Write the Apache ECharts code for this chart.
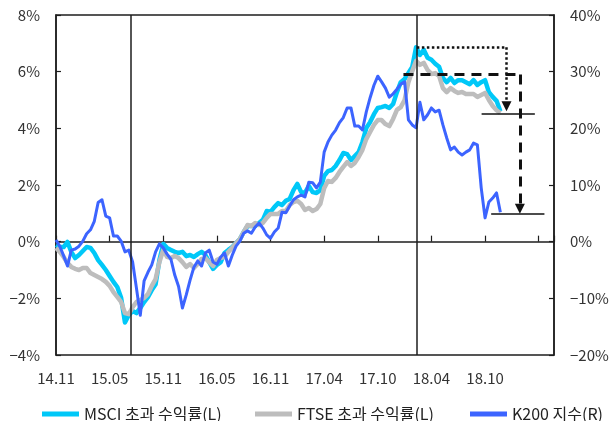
<!DOCTYPE html>
<html>
<head>
<meta charset="utf-8">
<script src="https://cdn.jsdelivr.net/npm/echarts@6/dist/echarts.min.js"></script>
<style>
  html, body { margin: 0; padding: 0; background: #fff; }
  #chart { width: 613px; height: 421px; }
</style>
</head>
<body>
<div id="chart"></div>
<script>
// Tick labels along the trading-day axis (one label every 14 samples)
const tickLabels = ['14.11', '15.05', '15.11', '16.05', '16.11', '17.04', '17.10', '18.04', '18.10', ''];
const labelStep = 14;
const lastIndex = 130;

// MSCI excess return, % (left axis)
const msciExcess = [
  -0.12, -0.19, -0.19, -0.01, -0.36, -0.58, -0.47, -0.33, -0.19, -0.22,
  -0.40, -0.65, -0.82, -1.00, -1.21, -1.42, -1.60, -1.98, -2.85, -2.59,
  -2.45, -2.52, -2.34, -2.13, -1.96, -1.71, -1.50, -0.65, -0.08, -0.22,
  -0.29, -0.36, -0.40, -0.36, -0.51, -0.47, -0.54, -0.44, -0.36, -0.47,
  -0.72, -0.96, -0.82, -0.72, -0.40, -0.29, -0.19, -0.05, 0.09, 0.34,
  0.55, 0.55, 0.55, 0.66, 0.77, 1.08, 1.05, 1.22, 1.36, 1.29,
  1.44, 1.51, 1.82, 2.04, 1.75, 1.72, 1.97, 1.75, 1.72, 1.82,
  2.32, 2.49, 2.53, 2.67, 2.88, 3.13, 3.09, 2.88, 3.02, 3.16,
  3.52, 4.01, 4.22, 4.50, 4.72, 4.75, 4.79, 4.72, 4.86, 5.28,
  5.63, 5.74, 5.95, 6.17, 6.86, 6.59, 6.77, 6.49, 6.42, 6.28,
  6.17, 5.78, 5.63, 5.78, 5.60, 5.70, 5.70, 5.63, 5.56, 5.70,
  5.53, 5.63, 5.70, 5.28, 5.11, 4.97, 4.60
];

// FTSE excess return, % (left axis)
const ftseExcess = [
  -0.22, -0.36, -0.54, -0.75, -0.89, -0.96, -1.00, -0.93, -0.93, -1.11,
  -1.18, -1.25, -1.32, -1.42, -1.56, -1.78, -1.95, -2.13, -2.52, -2.56,
  -2.31, -2.13, -2.06, -1.99, -1.85, -1.56, -1.32, -0.72, -0.29, -0.54,
  -0.58, -0.51, -0.58, -0.72, -0.89, -0.79, -0.93, -0.79, -0.61, -0.58,
  -0.72, -0.86, -0.65, -0.58, -0.54, -0.36, -0.22, -0.05, 0.09, 0.34,
  0.59, 0.55, 0.66, 0.59, 0.66, 0.84, 0.98, 0.98, 0.98, 1.08,
  1.08, 1.29, 1.40, 1.44, 1.33, 1.12, 1.19, 1.08, 1.15, 1.33,
  1.89, 2.14, 2.11, 2.25, 2.46, 2.64, 2.81, 2.67, 2.78, 2.99,
  3.24, 3.62, 3.87, 4.12, 4.29, 4.29, 4.15, 4.08, 4.33, 4.65,
  4.75, 5.00, 5.63, 6.02, 6.38, 6.24, 6.31, 6.06, 5.92, 5.95,
  5.85, 5.42, 5.28, 5.42, 5.32, 5.25, 5.28, 5.21, 5.21, 5.21,
  5.11, 5.18, 5.25, 5.00, 4.79, 4.64, 4.54
];

// KOSPI200 index change, % (right axis)
const k200Index = [
  0.3, -0.8, -2.5, -4.3, -1.5, -1.3, -0.8, 0.1, 1.4, 2.1,
  3.6, 6.9, 7.4, 4.5, 4.2, 1.0, 1.0, 0.1, -1.8, -1.5,
  -3.6, -8.2, -13.0, -6.9, -5.4, -4.1, -1.8, -0.4, -1.1, -2.2,
  -3.1, -5.9, -7.9, -11.7, -9.4, -6.8, -4.5, -3.4, -4.3, -2.0,
  -1.5, -3.6, -4.0, -2.7, -2.0, -4.3, -2.4, -0.8, 0.1, 1.5,
  1.9, 1.5, 2.6, 3.3, 2.4, 1.2, 0.6, 1.7, 2.4, 5.2,
  5.1, 6.3, 7.4, 7.9, 8.2, 7.9, 10.5, 10.4, 9.5, 10.5,
  15.8, 17.6, 18.8, 19.7, 21.0, 21.9, 23.6, 23.6, 20.4, 20.4,
  19.7, 22.9, 25.4, 27.6, 29.2, 28.2, 27.1, 25.5, 26.1, 26.9,
  27.8, 28.2, 21.5, 20.6, 20.1, 24.6, 21.5, 22.4, 23.6, 22.9,
  23.2, 20.6, 18.3, 16.2, 16.7, 15.8, 15.3, 15.8, 16.2, 17.4,
  17.1, 9.5, 4.2, 7.0, 7.7, 8.6, 5.2
];

// Event dates (sample index)
const eventIdx = [19.6, 94.2];

// MSCI drawdown annotation (left axis): horizontal span, peak -> arrow end, closing level
const msciDropSpan = [94.2, 117.6];
const msciDropPct = [6.86, 4.78];
const msciLevelSpan = [111.1, 125.0];
const msciLevelPct = 4.5;

// K200 drawdown annotation (right axis)
const k200DropSpan = [90.7, 121.1];
const k200DropPct = [29.5, 5.8];
const k200LevelSpan = [113.6, 127.5];
const k200LevelPct = 5.0;

const names = ['MSCI 초과 수익률(L)', 'FTSE 초과 수익률(L)', 'K200 지수(R)'];
const colors = ['#00c8f8', '#bdbdbd', '#3c64ff'];
const legendLeft = [37, 250, 465];

const ink = '#1e1e1e';
const font = '"Noto Sans CJK KR", "Noto Sans", sans-serif';
const pct = v => (v < 0 ? '\u2212' + Math.abs(v) : String(v)) + '%';
const indexed = arr => arr.map((v, i) => [i, v]);

const chart = echarts.init(document.getElementById('chart'), null, { renderer: 'canvas' });

const arrowLine = (span, drop) => [
  [{ coord: [span[0], drop[0]], symbol: 'none' }, { coord: [span[1], drop[0]], symbol: 'none' }],
  [{ coord: [span[1], drop[0]], symbol: 'none' }, { coord: [span[1], drop[1]], symbol: 'triangle', symbolSize: [10, 10] }]
];

chart.setOption({
  animation: false,
  backgroundColor: '#fff',
  grid: {
    left: 56, right: 59, top: 15, bottom: 66,
    show: true, borderColor: ink, borderWidth: 1.5,
    outerBoundsMode: 'none'
  },
  legend: names.map((n, i) => ({
    top: 401, left: legendLeft[i],
    icon: 'rect', itemWidth: 37, itemHeight: 5,
    textStyle: { fontSize: 16, color: '#222', fontFamily: font },
    data: [n]
  })),
  xAxis: [
    {
      type: 'value', min: 0, max: lastIndex, interval: labelStep, position: 'bottom',
      axisLine: { show: false, onZero: false },
      axisTick: { show: false },
      splitLine: { show: false },
      axisLabel: {
        margin: 16, color: '#333', fontSize: 15, fontFamily: font,
        showMinLabel: true, showMaxLabel: true,
        formatter: v => (v % labelStep === 0 ? (tickLabels[v / labelStep] || '') : '')
      }
    },
    {
      type: 'value', min: 0, max: lastIndex, interval: labelStep, position: 'bottom',
      axisLine: { show: true, onZero: true, onZeroAxisIndex: 0, lineStyle: { color: ink, width: 1.5 } },
      axisTick: { show: true, inside: true, length: 6, lineStyle: { color: ink, width: 1.2 } },
      axisLabel: { show: false },
      splitLine: { show: false }
    }
  ],
  yAxis: [
    {
      type: 'value', min: -4, max: 8, interval: 2, position: 'left',
      axisLine: { show: true, onZero: false, lineStyle: { color: ink, width: 1.5 } },
      axisTick: { show: true, inside: true, length: 5, lineStyle: { color: ink, width: 1.2 } },
      splitLine: { show: false },
      axisLabel: { margin: 16, color: '#333', fontSize: 15, fontFamily: font, formatter: pct }
    },
    {
      type: 'value', min: -20, max: 40, interval: 10, position: 'right',
      axisLine: { show: true, onZero: false, lineStyle: { color: ink, width: 1.5 } },
      axisTick: { show: true, inside: true, length: 5, lineStyle: { color: ink, width: 1.2 } },
      splitLine: { show: false },
      axisLabel: { margin: 16, color: '#333', fontSize: 15, fontFamily: font, formatter: pct }
    }
  ],
  series: [
    {
      name: names[0], type: 'line', xAxisIndex: 0, yAxisIndex: 0,
      data: indexed(msciExcess), symbol: 'none',
      lineStyle: { color: colors[0], width: 4.5, join: 'round' }, itemStyle: { color: colors[0] }
    },
    {
      name: names[1], type: 'line', xAxisIndex: 0, yAxisIndex: 0,
      data: indexed(ftseExcess), symbol: 'none',
      lineStyle: { color: colors[1], width: 4.5, join: 'round' }, itemStyle: { color: colors[1] }
    },
    {
      name: names[2], type: 'line', xAxisIndex: 0, yAxisIndex: 1,
      data: indexed(k200Index), symbol: 'none',
      lineStyle: { color: colors[2], width: 3, join: 'round' }, itemStyle: { color: colors[2] }
    },
    {
      // event markers and MSCI drawdown arrow
      type: 'line', xAxisIndex: 0, yAxisIndex: 0, data: [], z: 5, silent: true,
      markLine: {
        silent: true, animation: false, symbol: 'none', precision: 4,
        label: { show: false }, emphasis: { disabled: true },
        data: [
          ...eventIdx.map(x => ({ xAxis: x, lineStyle: { color: ink, width: 1.5, type: 'solid' } })),
          ...arrowLine(msciDropSpan, msciDropPct).map(seg => {
            seg[0].lineStyle = { color: '#111', width: 2.5, type: [2.5, 2.5] };
            return seg;
          }),
          [
            { coord: [msciLevelSpan[0], msciLevelPct], lineStyle: { color: '#111', width: 1.5, type: 'solid' } },
            { coord: [msciLevelSpan[1], msciLevelPct] }
          ]
        ]
      }
    },
    {
      // K200 drawdown arrow
      type: 'line', xAxisIndex: 0, yAxisIndex: 1, data: [], z: 5, silent: true,
      markLine: {
        silent: true, animation: false, symbol: 'none', precision: 4,
        label: { show: false }, emphasis: { disabled: true },
        data: [
          ...arrowLine(k200DropSpan, k200DropPct).map(seg => {
            seg[0].lineStyle = { color: '#111', width: 3, type: [10, 7] };
            return seg;
          }),
          [
            { coord: [k200LevelSpan[0], k200LevelPct], lineStyle: { color: '#111', width: 1.5, type: 'solid' } },
            { coord: [k200LevelSpan[1], k200LevelPct] }
          ]
        ]
      }
    }
  ]
});
</script>
</body>
</html>
